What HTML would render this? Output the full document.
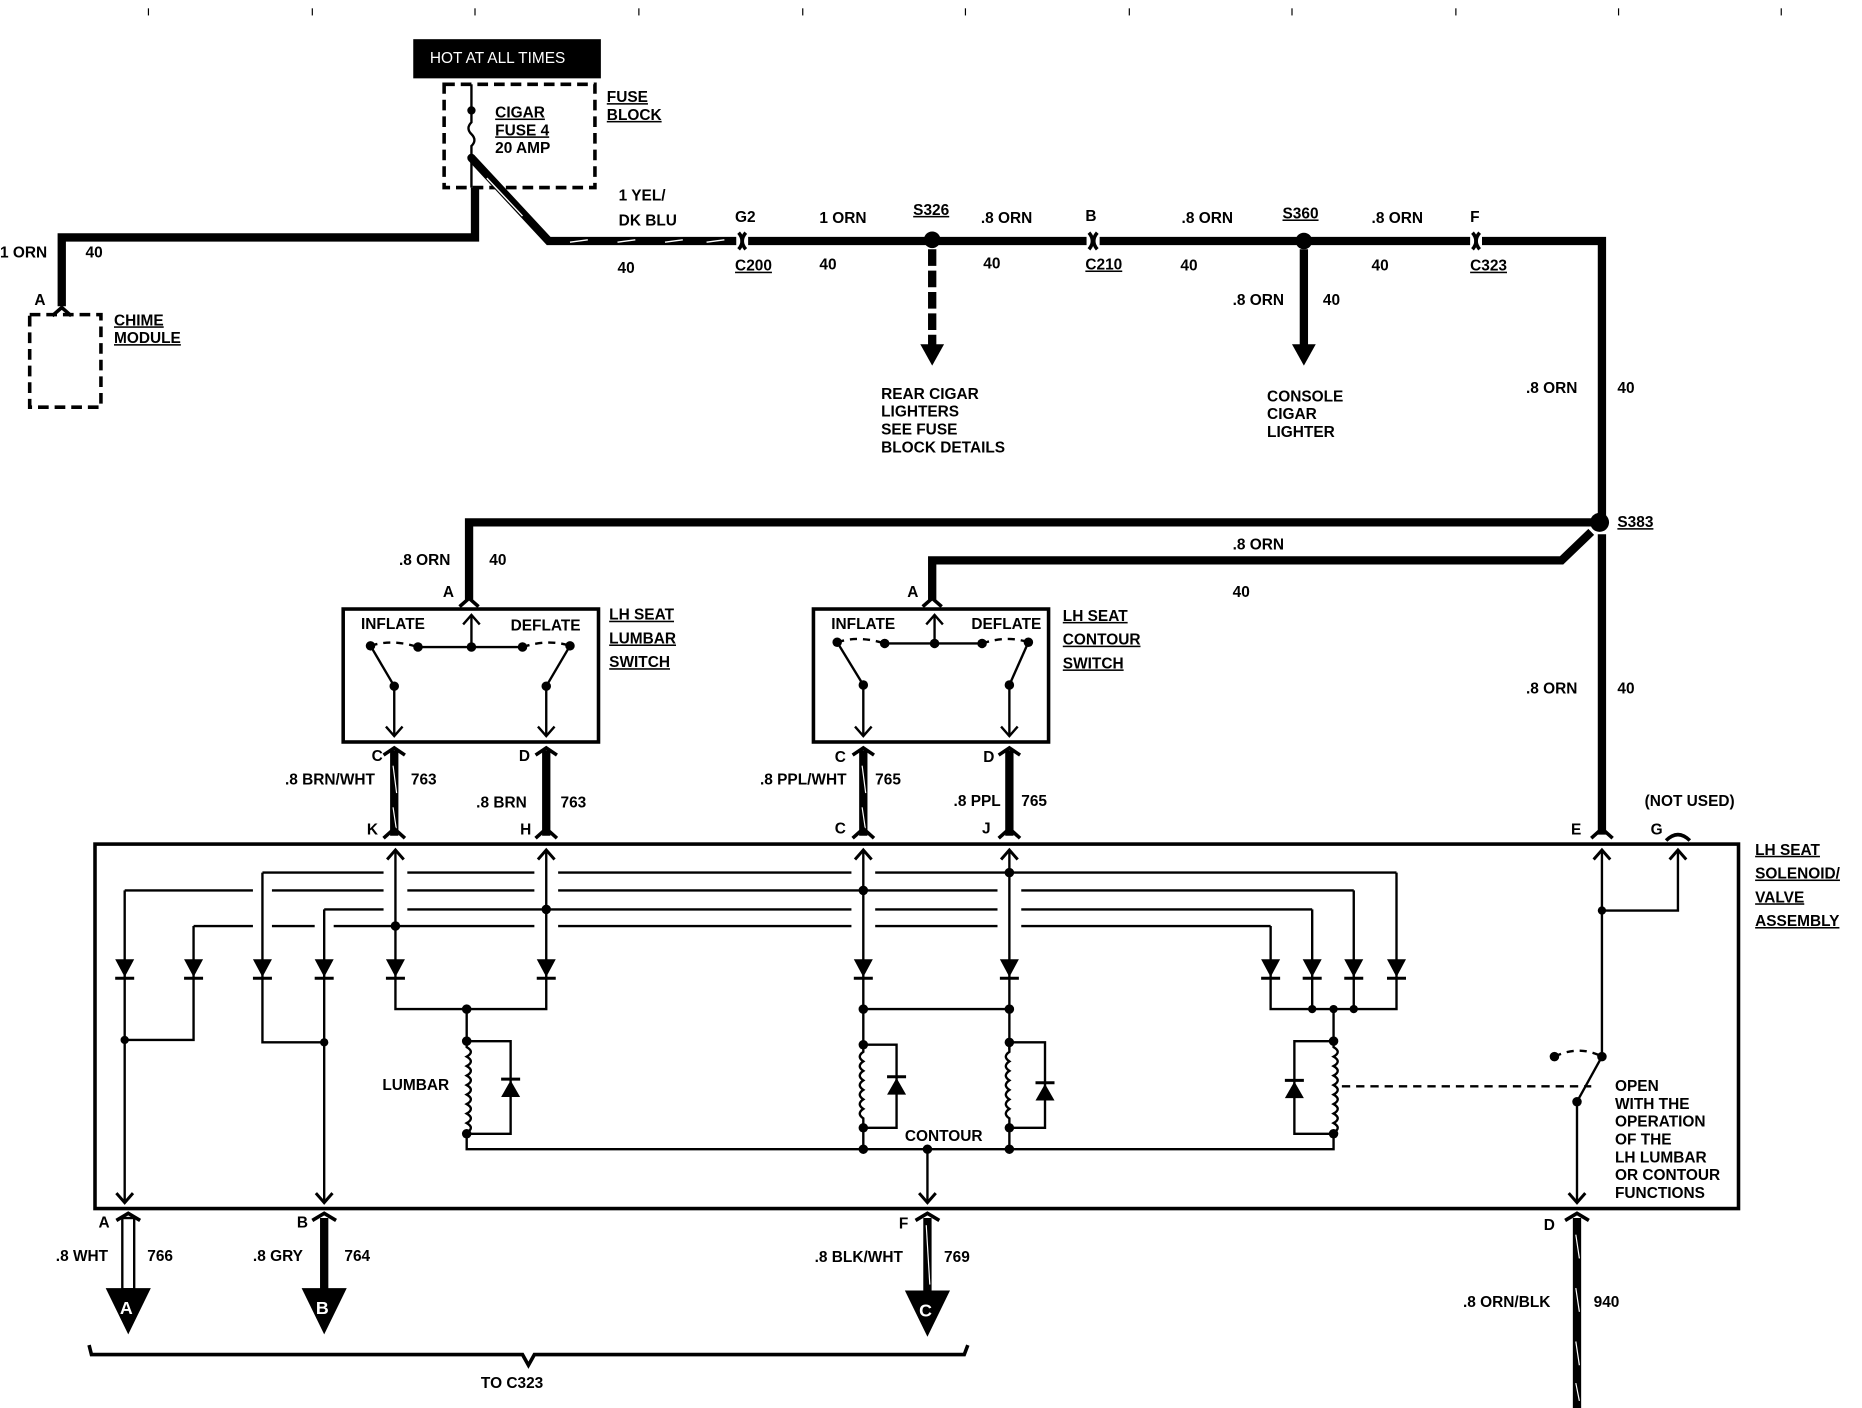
<!DOCTYPE html>
<html><head><meta charset="utf-8"><style>
html,body{margin:0;padding:0;background:#fff;}
svg{display:block;}
text{font-family:"Liberation Sans",sans-serif;font-weight:bold;font-size:13px;fill:#000;}
</style></head><body>
<svg width="1862" height="1408" viewBox="0 0 1568 1186" preserveAspectRatio="none" xmlns="http://www.w3.org/2000/svg">
<rect width="1568" height="1186" fill="#fff"/>
<g stroke="#000" stroke-width="1">
<line x1="125" y1="7" x2="125" y2="13"/><line x1="263" y1="7" x2="263" y2="13"/><line x1="400" y1="7" x2="400" y2="13"/><line x1="538" y1="7" x2="538" y2="13"/><line x1="676" y1="7" x2="676" y2="13"/><line x1="813" y1="7" x2="813" y2="13"/><line x1="951" y1="7" x2="951" y2="13"/><line x1="1088" y1="7" x2="1088" y2="13"/><line x1="1226" y1="7" x2="1226" y2="13"/><line x1="1363" y1="7" x2="1363" y2="13"/><line x1="1500" y1="7" x2="1500" y2="13"/>
</g>

<rect x="348" y="33" width="158" height="33" fill="#000"/>
<text x="362" y="53" style="fill:#fff;font-weight:normal">HOT AT ALL TIMES</text>
<rect x="374" y="71" width="127" height="87" fill="none" stroke="#000" stroke-width="3" stroke-dasharray="9,5"/>
<g stroke="#000" stroke-width="2" fill="none">
<line x1="397" y1="71" x2="397" y2="93"/>
<path d="M397 93 L397 103 Q392 108 397 113 Q402 118 397 123 L397 133"/>
<line x1="397" y1="133" x2="397" y2="158"/>
</g>
<circle cx="397" cy="93" r="3.5"/><circle cx="397" cy="133" r="3.5"/>
<text x="417" y="99" text-decoration="underline">CIGAR</text>
<text x="417" y="114" text-decoration="underline">FUSE  4</text>
<text x="417" y="129">20  AMP</text>
<text x="511" y="86" text-decoration="underline">FUSE</text>
<text x="511" y="101" text-decoration="underline">BLOCK</text>
<path d="M400 158 V200 H52 V258" fill="none" stroke="#000" stroke-width="7"/>
<text x="0" y="217">1 ORN</text><text x="72" y="217">40</text>
<text x="29" y="257">A</text>
<path d="M44 266 L52 259 L60 266" fill="none" stroke="#000" stroke-width="3"/>
<rect x="25" y="265" width="60" height="78" fill="none" stroke="#000" stroke-width="3" stroke-dasharray="9,5"/>
<text x="96" y="274" text-decoration="underline">CHIME</text>
<text x="96" y="289" text-decoration="underline">MODULE</text>
<path d="M397 133 L462 203 L620 203" fill="none" stroke="#000" stroke-width="7"/>
<g stroke="#fff" stroke-width="1.2">
<line x1="410" y1="150" x2="440" y2="182"/>
<line x1="480" y1="204" x2="495" y2="202"/><line x1="520" y1="204" x2="535" y2="202"/><line x1="560" y1="204" x2="575" y2="202"/><line x1="595" y1="204" x2="610" y2="202"/>
</g>
<text x="521" y="169">1 YEL/</text><text x="521" y="190">DK BLU</text><text x="520" y="230">40</text>
<g fill="none" stroke="#000" stroke-width="3">
<path d="M622 196 Q628 203 622 210"/><path d="M628 196 Q622 203 628 210"/>
<path d="M917 196 Q923 203 917 210"/><path d="M924 196 Q918 203 924 210"/>
<path d="M1240 196 Q1246 203 1240 210"/><path d="M1246 196 Q1240 203 1246 210"/>
</g>
<path d="M630 203 H915 M926 203 H1238 M1248 203 H1349 V440" fill="none" stroke="#000" stroke-width="7"/>
<text x="619" y="187">G2</text><text x="619" y="228" text-decoration="underline">C200</text>
<text x="690" y="188">1 ORN</text><text x="690" y="227">40</text>
<text x="769" y="181" text-decoration="underline">S326</text>
<circle cx="785" cy="202" r="7"/>
<line x1="785" y1="210" x2="785" y2="292" stroke="#000" stroke-width="7" stroke-dasharray="14,4"/>
<path d="M775 290 L795 290 L785 308 Z"/>
<text x="742" y="336">REAR CIGAR</text><text x="742" y="351">LIGHTERS</text><text x="742" y="366">SEE FUSE</text><text x="742" y="381">BLOCK DETAILS</text>
<text x="826" y="188">.8 ORN</text><text x="828" y="226">40</text>
<text x="914" y="186">B</text><text x="914" y="227" text-decoration="underline">C210</text>
<text x="995" y="188">.8 ORN</text><text x="994" y="228">40</text>
<text x="1080" y="184" text-decoration="underline">S360</text>
<circle cx="1098" cy="203" r="7"/>
<line x1="1098" y1="210" x2="1098" y2="292" stroke="#000" stroke-width="7"/>
<path d="M1088 290 L1108 290 L1098 308 Z"/>
<text x="1038" y="257">.8 ORN</text><text x="1114" y="257">40</text>
<text x="1067" y="338">CONSOLE</text><text x="1067" y="353">CIGAR</text><text x="1067" y="368">LIGHTER</text>
<text x="1155" y="188">.8 ORN</text><text x="1155" y="228">40</text>
<text x="1238" y="187">F</text><text x="1238" y="228" text-decoration="underline">C323</text>
<text x="1285" y="331">.8 ORN</text><text x="1362" y="331">40</text>
<circle cx="1347" cy="440" r="8"/>
<text x="1362" y="444" text-decoration="underline">S383</text>
<path d="M1340 440 H395 V505" fill="none" stroke="#000" stroke-width="7"/>
<path d="M1340 448 L1315 472 H785 V505" fill="none" stroke="#000" stroke-width="7"/>
<path d="M1349 450 V703" fill="none" stroke="#000" stroke-width="7"/>
<text x="336" y="476">.8 ORN</text><text x="412" y="476">40</text><text x="373" y="503">A</text>
<text x="1038" y="463">.8 ORN</text><text x="1038" y="503">40</text><text x="764" y="503">A</text>
<text x="1285" y="584">.8 ORN</text><text x="1362" y="584">40</text>
<g fill="none" stroke="#000" stroke-width="3">
<path d="M387 511 L395 504 L403 511"/><path d="M777 511 L785 504 L793 511"/>
</g>

<g fill="none" stroke="#000" stroke-width="2">
<rect x="289" y="513" width="215" height="112" stroke-width="3"/>
<line x1="397" y1="518" x2="397" y2="545"/><path d="M390 526 L397 518 L404 526"/>
<line x1="352" y1="545" x2="440" y2="545"/>
<path d="M312 544 Q330 538 352 545" stroke-dasharray="6,5"/><path d="M440 545 Q462 538 480 544" stroke-dasharray="6,5"/>
<line x1="312" y1="544" x2="332" y2="578"/><line x1="480" y1="544" x2="460" y2="578"/>
<line x1="332" y1="578" x2="332" y2="620"/><line x1="460" y1="578" x2="460" y2="620"/>
<path d="M325 612 L332 620 L339 612"/><path d="M453 612 L460 620 L467 612"/>
<rect x="685" y="513" width="198" height="112" stroke-width="3"/>
<line x1="787" y1="518" x2="787" y2="542"/><path d="M780 526 L787 518 L794 526"/>
<line x1="745" y1="542" x2="827" y2="542"/>
<path d="M705 541 Q723 535 745 542" stroke-dasharray="6,5"/><path d="M827 542 Q848 535 866 541" stroke-dasharray="6,5"/>
<line x1="705" y1="541" x2="727" y2="577"/><line x1="866" y1="541" x2="850" y2="577"/>
<line x1="727" y1="577" x2="727" y2="620"/><line x1="850" y1="577" x2="850" y2="620"/>
<path d="M720 612 L727 620 L734 612"/><path d="M843 612 L850 620 L857 612"/>
</g>
<g>
<circle cx="312" cy="544" r="4"/><circle cx="352" cy="545" r="4"/><circle cx="397" cy="545" r="4"/><circle cx="440" cy="545" r="4"/><circle cx="480" cy="544" r="4"/><circle cx="332" cy="578" r="4"/><circle cx="460" cy="578" r="4"/>
<circle cx="705" cy="541" r="4"/><circle cx="745" cy="542" r="4"/><circle cx="787" cy="542" r="4"/><circle cx="827" cy="542" r="4"/><circle cx="866" cy="541" r="4"/><circle cx="727" cy="577" r="4"/><circle cx="850" cy="577" r="4"/>
</g>
<text x="304" y="530">INFLATE</text><text x="430" y="531">DEFLATE</text>
<text x="700" y="530">INFLATE</text><text x="818" y="530">DEFLATE</text>
<text x="513" y="522" text-decoration="underline">LH SEAT</text><text x="513" y="542" text-decoration="underline">LUMBAR</text><text x="513" y="562" text-decoration="underline">SWITCH</text>
<text x="895" y="523" text-decoration="underline">LH SEAT</text><text x="895" y="543" text-decoration="underline">CONTOUR</text><text x="895" y="563" text-decoration="underline">SWITCH</text>

<g stroke="#000" stroke-width="7"><line x1="332" y1="632" x2="332" y2="704"/><line x1="460" y1="632" x2="460" y2="704"/><line x1="727" y1="632" x2="727" y2="704"/><line x1="850" y1="632" x2="850" y2="704"/></g>
<g stroke="#fff" stroke-width="1"><line x1="331" y1="645" x2="334" y2="668"/><line x1="331" y1="680" x2="334" y2="700"/><line x1="726" y1="645" x2="729" y2="668"/><line x1="726" y1="680" x2="729" y2="700"/></g>
<g fill="none" stroke="#000" stroke-width="3">
<path d="M323 636 L332 630 L341 636"/><path d="M451 636 L460 630 L469 636"/><path d="M718 636 L727 630 L736 636"/><path d="M841 636 L850 630 L859 636"/>
<path d="M323 706 L332 698 L341 706"/><path d="M451 706 L460 698 L469 706"/><path d="M718 706 L727 698 L736 706"/><path d="M841 706 L850 698 L859 706"/>
<path d="M1340 706 L1349 698 L1358 706"/><path d="M1403 708 Q1413 698 1423 708"/>
</g>
<text x="313" y="641">C</text><text x="437" y="641">D</text><text x="240" y="661">.8 BRN/WHT</text><text x="346" y="661">763</text>
<text x="401" y="680">.8 BRN</text><text x="472" y="680">763</text><text x="309" y="703">K</text><text x="438" y="703">H</text>
<text x="703" y="642">C</text><text x="828" y="642">D</text><text x="640" y="661">.8 PPL/WHT</text><text x="737" y="661">765</text>
<text x="803" y="679">.8 PPL</text><text x="860" y="679">765</text><text x="703" y="702">C</text><text x="827" y="702">J</text>
<text x="1323" y="703">E</text><text x="1390" y="703">G</text><text x="1385" y="679">(NOT USED)</text>
<text x="1478" y="720" text-decoration="underline">LH SEAT</text><text x="1478" y="740" text-decoration="underline">SOLENOID/</text><text x="1478" y="760" text-decoration="underline">VALVE</text><text x="1478" y="780" text-decoration="underline">ASSEMBLY</text>

<rect x="80" y="711" width="1384" height="307" fill="none" stroke="#000" stroke-width="3"/>
<g fill="none" stroke="#000" stroke-width="2">
<path d="M221 735 H1176"/><path d="M105 750 H1140"/><path d="M273 766 H1105"/><path d="M163 780 H1070"/>
</g>
<g fill="#fff">
<rect x="213" y="747" width="16" height="6"/><rect x="213" y="777" width="16" height="6"/><rect x="265" y="777" width="16" height="6"/>
<rect x="323" y="732" width="20" height="6"/><rect x="323" y="747" width="20" height="6"/><rect x="323" y="763" width="20" height="6"/>
<rect x="450" y="732" width="20" height="6"/><rect x="450" y="747" width="20" height="6"/><rect x="450" y="777" width="20" height="6"/>
<rect x="717" y="732" width="20" height="6"/><rect x="717" y="763" width="20" height="6"/><rect x="717" y="777" width="20" height="6"/>
<rect x="840" y="747" width="20" height="6"/><rect x="840" y="763" width="20" height="6"/><rect x="840" y="777" width="20" height="6"/>
</g>
<g fill="none" stroke="#000" stroke-width="2">
<path d="M105 750 V1012"/><path d="M163 780 V876 H105"/><path d="M221 735 V878 H273"/><path d="M273 766 V1012"/>
<path d="M333 716 V850 H460 V716"/><path d="M393 850 V877"/>
<path d="M393 877 V882 q7 4 0 8 q7 4 0 8 q7 4 0 8 q7 4 0 8 q7 4 0 8 q7 4 0 8 q7 4 0 8 q7 4 0 8 q7 4 0 8 V955"/>
<path d="M393 877 H430 V955 H393 V968 H1123 V955"/>
<path d="M727 716 V968"/><path d="M850 716 V968"/><path d="M727 850 H850"/>
<path d="M727 880 H755 V950 H727"/><path d="M850 878 H880 V950 H850"/>
<path d="M1070 780 V850 H1176 V735"/><path d="M1105 766 V850"/><path d="M1140 750 V850"/>
<path d="M1123 850 V877 H1090 V955 H1123"/>
<path d="M1123 877 V882 q7 4 0 8 q7 4 0 8 q7 4 0 8 q7 4 0 8 q7 4 0 8 q7 4 0 8 q7 4 0 8 q7 4 0 8 q7 4 0 8 V955"/>
<path d="M781 968 V1012"/>
<path d="M1349 716 V890"/><path d="M1349 767 H1413 V716"/>
<path d="M1328 928 V1012"/><path d="M1328 928 L1349 890"/>
<path d="M1309 890 Q1330 880 1349 890" stroke-dasharray="6,5"/>
<path d="M1130 915 H1340" stroke-dasharray="7,5"/>
</g>
<g fill="#fff" stroke="none"><rect x="725" y="884" width="5" height="62"/><rect x="848" y="884" width="5" height="62"/></g>
<g fill="none" stroke="#000" stroke-width="2">
<path d="M727 880 V886 q-6 4 0 8 q-6 4 0 8 q-6 4 0 8 q-6 4 0 8 q-6 4 0 8 q-6 4 0 8 q-6 4 0 8 V950"/>
<path d="M850 878 V886 q-6 4 0 8 q-6 4 0 8 q-6 4 0 8 q-6 4 0 8 q-6 4 0 8 q-6 4 0 8 q-6 4 0 8 V950"/>
</g>
<g>
<path d="M97 808 H113 L105 823 Z"/><path d="M155 808 H171 L163 823 Z"/><path d="M213 808 H229 L221 823 Z"/><path d="M265 808 H281 L273 823 Z"/><path d="M325 808 H341 L333 823 Z"/><path d="M452 808 H468 L460 823 Z"/>
<path d="M719 808 H735 L727 823 Z"/><path d="M842 808 H858 L850 823 Z"/>
<path d="M1062 808 H1078 L1070 823 Z"/><path d="M1097 808 H1113 L1105 823 Z"/><path d="M1132 808 H1148 L1140 823 Z"/><path d="M1168 808 H1184 L1176 823 Z"/>
</g>
<g stroke="#000" stroke-width="2.5">
<line x1="97" y1="824" x2="113" y2="824"/><line x1="155" y1="824" x2="171" y2="824"/><line x1="213" y1="824" x2="229" y2="824"/><line x1="265" y1="824" x2="281" y2="824"/><line x1="325" y1="824" x2="341" y2="824"/><line x1="452" y1="824" x2="468" y2="824"/>
<line x1="719" y1="824" x2="735" y2="824"/><line x1="842" y1="824" x2="858" y2="824"/>
<line x1="1062" y1="824" x2="1078" y2="824"/><line x1="1097" y1="824" x2="1113" y2="824"/><line x1="1132" y1="824" x2="1148" y2="824"/><line x1="1168" y1="824" x2="1184" y2="824"/>
<line x1="422" y1="909" x2="438" y2="909"/><line x1="747" y1="907" x2="763" y2="907"/><line x1="872" y1="912" x2="888" y2="912"/><line x1="1082" y1="910" x2="1098" y2="910"/>
</g>
<g>
<path d="M422 924 H438 L430 910 Z"/><path d="M747 922 H763 L755 908 Z"/><path d="M872 927 H888 L880 913 Z"/><path d="M1082 925 H1098 L1090 911 Z"/>
</g>
<g>
<circle cx="105" cy="876" r="3.5"/><circle cx="273" cy="878" r="3.5"/><circle cx="333" cy="780" r="4"/><circle cx="460" cy="766" r="4"/><circle cx="393" cy="850" r="4"/><circle cx="393" cy="877" r="4"/><circle cx="393" cy="955" r="4"/>
<circle cx="727" cy="750" r="4"/><circle cx="850" cy="735" r="4"/><circle cx="727" cy="850" r="4"/><circle cx="850" cy="850" r="4"/><circle cx="727" cy="880" r="4"/><circle cx="850" cy="878" r="4"/><circle cx="727" cy="950" r="4"/><circle cx="850" cy="950" r="4"/><circle cx="727" cy="968" r="4"/><circle cx="850" cy="968" r="4"/><circle cx="781" cy="968" r="4"/>
<circle cx="1105" cy="850" r="3.5"/><circle cx="1123" cy="850" r="3.5"/><circle cx="1140" cy="850" r="3.5"/><circle cx="1123" cy="877" r="4"/><circle cx="1123" cy="955" r="4"/>
<circle cx="1349" cy="767" r="3.5"/><circle cx="1349" cy="890" r="4"/><circle cx="1328" cy="928" r="4"/><circle cx="1309" cy="890" r="4"/>
</g>
<text x="322" y="918">LUMBAR</text><text x="762" y="961">CONTOUR</text>
<text x="1360" y="919">OPEN</text><text x="1360" y="934">WITH THE</text><text x="1360" y="949">OPERATION</text><text x="1360" y="964">OF THE</text><text x="1360" y="979">LH  LUMBAR</text><text x="1360" y="994">OR CONTOUR</text><text x="1360" y="1009">FUNCTIONS</text>
<g fill="none" stroke="#000" stroke-width="2.5">
<path d="M326 724 L333 716 L340 724"/><path d="M453 724 L460 716 L467 724"/><path d="M720 724 L727 716 L734 724"/><path d="M843 724 L850 716 L857 724"/><path d="M1342 724 L1349 716 L1356 724"/><path d="M1406 724 L1413 716 L1420 724"/>
<path d="M98 1005 L105 1013 L112 1005"/><path d="M266 1005 L273 1013 L280 1005"/><path d="M774 1005 L781 1013 L788 1005"/><path d="M1321 1005 L1328 1013 L1335 1005"/>
<path d="M98 1028 L108 1022 L118 1028" stroke-width="3"/><path d="M263 1028 L273 1022 L283 1028" stroke-width="3"/><path d="M771 1028 L781 1022 L791 1028" stroke-width="3"/><path d="M1318 1028 L1328 1022 L1338 1028" stroke-width="3"/>
</g>
<rect x="103" y="1026" width="10" height="60" fill="#fff" stroke="#000" stroke-width="2"/>
<line x1="273" y1="1026" x2="273" y2="1088" stroke="#000" stroke-width="7"/>
<line x1="781" y1="1026" x2="781" y2="1090" stroke="#000" stroke-width="7"/>
<line x1="780" y1="1032" x2="783" y2="1082" stroke="#fff" stroke-width="1"/>
<line x1="1328" y1="1026" x2="1328" y2="1186" stroke="#000" stroke-width="7"/>
<g stroke="#fff" stroke-width="1"><line x1="1327" y1="1040" x2="1330" y2="1060"/><line x1="1327" y1="1085" x2="1330" y2="1105"/><line x1="1327" y1="1130" x2="1330" y2="1150"/><line x1="1327" y1="1165" x2="1330" y2="1180"/></g>
<path d="M89 1085 H127 L108 1124 Z"/><path d="M254 1085 H292 L273 1124 Z"/><path d="M762 1087 H800 L781 1126 Z"/>
<text x="101" y="1107" style="fill:#fff;font-size:15px">A</text><text x="266" y="1107" style="fill:#fff;font-size:15px">B</text><text x="774" y="1109" style="fill:#fff;font-size:15px">C</text>
<text x="83" y="1034">A</text><text x="250" y="1034">B</text><text x="757" y="1035">F</text><text x="1300" y="1036">D</text>
<text x="47" y="1062">.8 WHT</text><text x="124" y="1062">766</text><text x="213" y="1062">.8 GRY</text><text x="290" y="1062">764</text>
<text x="686" y="1063">.8 BLK/WHT</text><text x="795" y="1063">769</text>
<text x="1232" y="1101">.8 ORN/BLK</text><text x="1342" y="1101">940</text>
<path d="M75 1133 L77 1141 H440 L445 1150 L450 1141 H812 L815 1133" fill="none" stroke="#000" stroke-width="3"/>
<text x="405" y="1169">TO C323</text>
</svg>
</body></html>
